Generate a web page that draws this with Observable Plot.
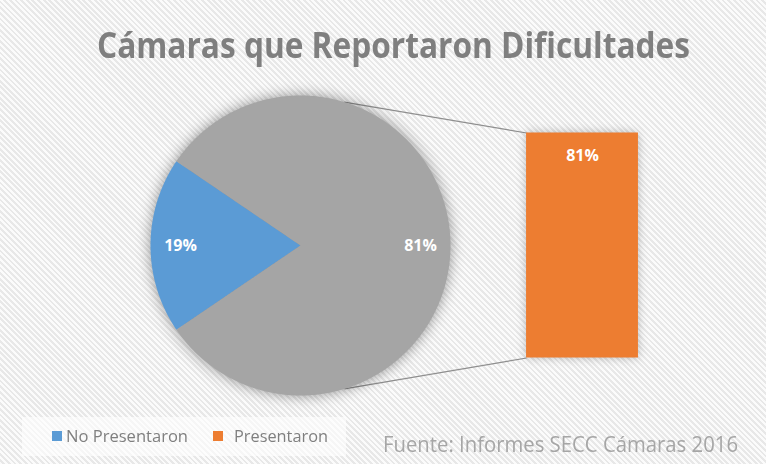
<!DOCTYPE html>
<html><head><meta charset="utf-8">
<script src="https://cdn.jsdelivr.net/npm/d3@7"></script>
<script src="https://cdn.jsdelivr.net/npm/@observablehq/plot@0.6"></script>
<style>
html,body{margin:0;padding:0;background:#fff;}
#chart{position:relative;width:766px;height:464px;overflow:hidden;font-family:"Open Sans",sans-serif;
  background:repeating-linear-gradient(45deg,#fbfbfb 0px,#fbfbfb 2px,#e8e8e8 2px,#e8e8e8 4px);}
.t{position:absolute;white-space:nowrap;line-height:1;transform-origin:0 0;}
#title{font-size:35px;font-weight:700;color:#7f7f7f;}
#legendBox{position:absolute;left:22px;top:417px;width:324px;height:39px;background:rgba(255,255,255,0.6);}
.leg{font-size:17px;color:#7f7f7f;}
.sw{position:absolute;width:10px;height:10px;}
#caption{font-size:22px;color:#a6a6a6;}
#plot{position:absolute;left:0;top:80px;}
#plot g[aria-label="line"]{filter:drop-shadow(0 0 7px rgba(0,0,0,0.4));}
#plot g[aria-label="rect"]{filter:drop-shadow(0 0 5px rgba(0,0,0,0.25));}
</style>
</head><body>
<div id="chart"></div>
<script>
// ---- data ----
const titleText = "Cámaras que Reportaron Dificultades";
const captionText = "Fuente: Informes SECC Cámaras 2016";
const pieCategories = ["No Presentaron", "Presentaron"];
const pieValues = [19, 81];
const pieLabels = ["19%", "81%"];
const barCategories = ["Presentaron"];
const barValues = [81];
const barLabels = ["81%"];
const legendCategories = ["No Presentaron", "Presentaron"];

// ---- styles / layout ----
const pieColors = {"No Presentaron": "#5b9bd5", "Presentaron": "#a5a5a5"};
const barColors = {"Presentaron": "#ed7d31"};
const legendColors = ["#5b9bd5", "#ed7d31"];
const W = 766, H = 330;
const unit = 150;             // pixels per pie radius
const cx = 300, cy = 165;     // pie centre in svg pixels
const barLeft = 1.507, barRight = 2.253, barBottom = -0.75, barTop = 0.75;
const labelRadius = 0.8;
const connectorAngle = 17 * Math.PI / 180;

// pie geometry from values
const blueSpan = 2 * Math.PI * pieValues[0] / d3.sum(pieValues);
const start = -Math.PI / 2 - blueSpan / 2;
const arcs = d3.pie().sort(null).startAngle(start).endAngle(start + 2 * Math.PI)(pieValues);
const piePts = [];
arcs.forEach((a, i) => {
  const name = pieCategories[i];
  piePts.push({name, x: 0, y: 0});
  const n = Math.max(8, Math.ceil((a.endAngle - a.startAngle) / (2 * Math.PI) * 360));
  for (let k = 0; k <= n; k++) {
    const t = a.startAngle + (a.endAngle - a.startAngle) * k / n;
    piePts.push({name, x: Math.sin(t), y: Math.cos(t)});
  }
});
const pieLabelData = arcs.map((a, i) => {
  const m = (a.startAngle + a.endAngle) / 2;
  return {label: pieLabels[i], x: labelRadius * Math.sin(m), y: labelRadius * Math.cos(m)};
});

// bar geometry from values
const barTotal = d3.sum(barValues);
let acc = 0;
const barData = barValues.map((v, i) => {
  const y1 = barBottom + (barTop - barBottom) * acc / barTotal;
  acc += v;
  const y2 = barBottom + (barTop - barBottom) * acc / barTotal;
  return {name: barCategories[i], label: barLabels[i], y1, y2};
});
const linkData = [
  {x1: Math.sin(connectorAngle), y1: Math.cos(connectorAngle), x2: barLeft, y2: barTop},
  {x1: Math.sin(connectorAngle), y1: -Math.cos(connectorAngle), x2: barLeft, y2: barBottom}
];

const plot = Plot.plot({
  width: W, height: H,
  margin: 0,
  style: {background: "transparent", overflow: "visible"},
  x: {domain: [-cx / unit, (W - cx) / unit], range: [0, W], axis: null},
  y: {domain: [-(H - cy) / unit, cy / unit], range: [H, 0], axis: null},
  marks: [
    Plot.link(linkData, {x1: "x1", y1: "y1", x2: "x2", y2: "y2", stroke: "#8f8f8f", strokeWidth: 1.2}),
    Plot.line(piePts, {x: "x", y: "y", z: "name", fill: d => pieColors[d.name], stroke: "none"}),
    Plot.rect(barData, {x1: barLeft, x2: barRight, y1: "y1", y2: "y2", fill: d => barColors[d.name]}),
    Plot.text(pieLabelData, {x: "x", y: "y", text: "label", fill: "white", fontSize: 16, fontWeight: 700, fontFamily: "Open Sans"}),
    Plot.text(barData, {x: (barLeft + barRight) / 2, y: d => d.y2 - 0.153, text: "label", fill: "white", fontSize: 16, fontWeight: 700, fontFamily: "Open Sans"})
  ]
});
plot.id = "plot";

const chart = document.getElementById("chart");
function addText(id, cls, text, left, top, width) {
  const el = document.createElement("div");
  if (id) el.id = id;
  el.className = "t " + (cls || "");
  el.textContent = text;
  el.style.left = left + "px";
  el.style.top = top + "px";
  chart.appendChild(el);
  const w = el.getBoundingClientRect().width;
  el.style.transform = `scaleX(${width / w})`;
  return el;
}
addText("title", "", titleText, 97, 27, 593);
const box = document.createElement("div"); box.id = "legendBox"; chart.appendChild(box);
const legendPos = [{sw: 52, tx: 66, w: 122}, {sw: 213, tx: 234, w: 94}];
legendCategories.forEach((c, i) => {
  const s = document.createElement("div");
  s.className = "sw";
  s.style.left = legendPos[i].sw + "px"; s.style.top = "431px";
  s.style.background = legendColors[i];
  chart.appendChild(s);
  addText(null, "leg", c, legendPos[i].tx, 427, legendPos[i].w);
});
addText("caption", "", captionText, 383, 431.5, 355);
chart.appendChild(plot);
</script>
</body></html>
